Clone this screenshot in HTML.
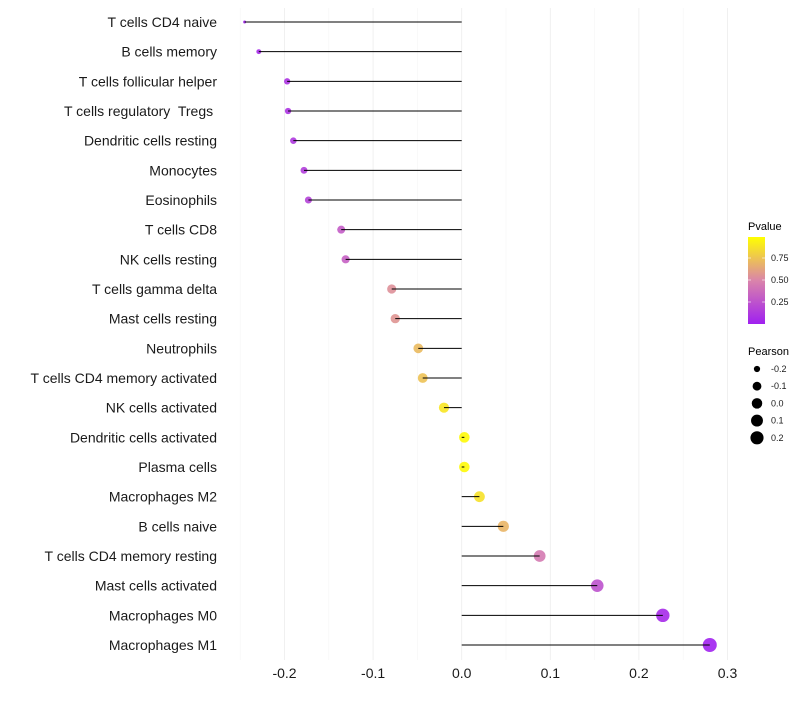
<!DOCTYPE html>
<html><head><meta charset="utf-8"><style>
body{margin:0;background:#fff;font-family:"Liberation Sans",sans-serif}
</style></head><body>
<svg id="chart" width="800" height="700" xmlns="http://www.w3.org/2000/svg" font-family="Liberation Sans, sans-serif">
<g id="grid"></g>
<g id="marks"></g>
<g id="ylab"></g>
<g id="xlab"></g>
<g id="legend"></g>
</svg>
<script>
const categories=["T cells CD4 naive","B cells memory","T cells follicular helper","T cells regulatory\u00a0 Tregs\u00a0","Dendritic cells resting","Monocytes","Eosinophils","T cells CD8","NK cells resting","T cells gamma delta","Mast cells resting","Neutrophils","T cells CD4 memory activated","NK cells activated","Dendritic cells activated","Plasma cells","Macrophages M2","B cells naive","T cells CD4 memory resting","Mast cells activated","Macrophages M0","Macrophages M1"];
const pearson=[-0.245,-0.229,-0.197,-0.196,-0.190,-0.178,-0.173,-0.136,-0.131,-0.079,-0.075,-0.049,-0.044,-0.020,0.003,0.003,0.020,0.047,0.088,0.153,0.227,0.280];
const pvalue=[0.02,0.05,0.1,0.1,0.12,0.15,0.17,0.3,0.32,0.55,0.57,0.72,0.75,0.9,0.98,0.98,0.88,0.7,0.45,0.25,0.05,0.01];
const xTicks=[-0.2,-0.1,0.0,0.1,0.2,0.3];
const xTickLabels=["-0.2","-0.1","0.0","0.1","0.2","0.3"];
const pTicks=[0.25,0.5,0.75];
const pTickLabels=["0.25","0.50","0.75"];
const sizeBreaks=[-0.2,-0.1,0.0,0.1,0.2];
const sizeLabels=["-0.2","-0.1","0.0","0.1","0.2"];
const NS="http://www.w3.org/2000/svg";
const x=v=>461.7+v*886;
const y=i=>22+i*(623/21);
const sMin=Math.min(...pearson),sMax=Math.max(...pearson);
const r=v=>{const t=Math.max(0,Math.min(1,(v-sMin)/(sMax-sMin)));return 1.5+5.5*Math.sqrt(t);};
const stops=[[0,[160,32,240]],[0.5,[218,132,170]],[1,[255,255,0]]];
function col(p){for(let k=0;k<stops.length-1;k++){const[a,ca]=stops[k],[b,cb]=stops[k+1];if(p<=b){const t=(p-a)/(b-a);return`rgb(${ca.map((c,j)=>Math.round(c+(cb[j]-c)*t)).join(",")})`;}}return"rgb(255,255,0)";}
function mk(t,at,p){const e=document.createElementNS(NS,t);for(const k in at)e.setAttribute(k,at[k]);p.appendChild(e);return e;}
const grid=document.getElementById('grid');
for(let v=-0.25;v<=0.301;v+=0.05){const major=Math.abs(Math.round(v*100)%10)<1;const g=mk('line',{x1:x(v),x2:x(v),y1:8,y2:660,stroke:major?'#ececec':'#f3f3f3','stroke-width':major?0.8:0.5},grid);}
const marks=document.getElementById('marks'),ylab=document.getElementById('ylab');
categories.forEach((c,i)=>{
const pt=mk('circle',{cx:x(pearson[i]),cy:y(i),r:r(pearson[i]),fill:col(pvalue[i]),'fill-opacity':0.9},marks);


const ln=mk('line',{x1:x(0),x2:x(pearson[i]),y1:y(i),y2:y(i),stroke:'#000','stroke-width':1},marks);


const t=mk('text',{x:217,y:y(i)+5,'text-anchor':'end','font-size':14,fill:'#1a1a1a'},ylab);t.textContent=c;


});
const xl=document.getElementById('xlab');
xTicks.forEach((v,i)=>{const t=mk('text',{x:x(v),y:678,'text-anchor':'middle','font-size':14,fill:'#1a1a1a'},xl);t.textContent=xTickLabels[i];

});
const lg=document.getElementById('legend');
let tt=mk('text',{x:748,y:230,'font-size':11,fill:'#000'},lg);tt.textContent='Pvalue';
const defs=mk('defs',{},lg);const gr=mk('linearGradient',{id:'pg',x1:0,y1:1,x2:0,y2:0},defs);
stops.forEach(s=>mk('stop',{offset:s[0],'stop-color':col(s[0])},gr));
const cb=mk('rect',{x:748,y:237,width:17,height:87,fill:'url(#pg)'},lg);


const py=p=>324-p*88;
pTicks.forEach((p,i)=>{mk('line',{x1:748,x2:751,y1:py(p),y2:py(p),stroke:'#fff','stroke-width':0.6},lg);mk('line',{x1:762,x2:765,y1:py(p),y2:py(p),stroke:'#fff','stroke-width':0.6},lg);
const t=mk('text',{x:771,y:py(p)+3,'font-size':9,fill:'#1a1a1a'},lg);t.textContent=pTickLabels[i];

});
tt=mk('text',{x:748,y:355,'font-size':11,fill:'#000'},lg);tt.textContent='Pearson';
sizeBreaks.forEach((v,i)=>{const cy=369+i*17.2;const c=mk('circle',{cx:757,cy:cy,r:r(v),fill:'#000'},lg);


const t=mk('text',{x:771,y:cy+3,'font-size':9,fill:'#1a1a1a'},lg);t.textContent=sizeLabels[i];});
</script>
</body></html>
